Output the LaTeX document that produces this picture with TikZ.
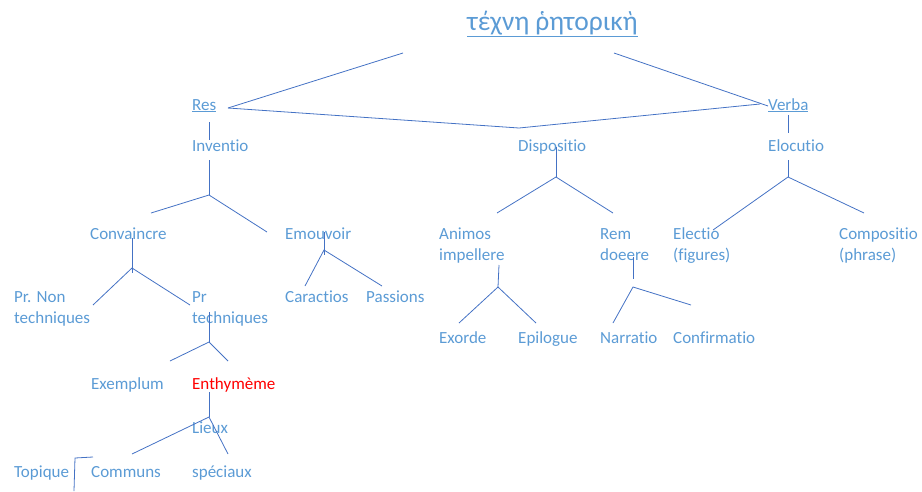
\documentclass[tikz,border=0pt]{standalone}
\usepackage{fontspec}
\setmainfont{Carlito}[Ligatures=NoCommon]
\definecolor{lblblue}{RGB}{91,155,213}
\definecolor{lineblue}{RGB}{68,114,196}
\begin{document}
\begin{tikzpicture}[x=1pt,y=-1pt,
  lbl/.style={anchor=base west,inner sep=0pt,text=lblblue,align=left,font=\fontsize{17}{21}\selectfont},
  br/.style={draw=lineblue,line width=0.8pt}]
\useasboundingbox (0,0) rectangle (922,491);
% title and main branches
\node[lbl,font=\fontsize{27.5}{30}\selectfont] (title) at (467,30) {\underline{τέχνη ῥητορικὴ}};
\node[lbl] (res) at (192,110) {\underline{Res}};
\node[lbl] (verba) at (768,110) {\underline{Verba}};
\node[lbl] (inventio) at (192,151) {Inventio};
\node[lbl] (dispositio) at (518,151) {Dispositio};
\node[lbl] (elocutio) at (768,151) {Elocutio};
% second level (two lines: base is the last line)
\node[lbl] (convaincre) at (90,239) {Convaincre};
\node[lbl] (emouvoir) at (285,239) {Emouvoir};
\node[lbl] (animos) at (439,260) {Animos\\impellere};
\node[lbl] (rem) at (600,260) {Rem\\doeere};
\node[lbl] (electio) at (673,260) {Electio\\(figures)};
\node[lbl] (compositio) at (839,260) {Compositio\\(phrase)};
% third level
\node[lbl] (prnon) at (14,323) {Pr. Non\\techniques};
\node[lbl] (prtech) at (192,323) {Pr\\techniques};
\node[lbl] (caractios) at (285,302) {Caractios};
\node[lbl] (passions) at (366,302) {Passions};
\node[lbl] (exorde) at (439,343) {Exorde};
\node[lbl] (epilogue) at (518,343) {Epilogue};
\node[lbl] (narratio) at (600,343) {Narratio};
\node[lbl] (confirmatio) at (673,343) {Confirmatio};
% lower part
\node[lbl] (exemplum) at (91,389) {Exemplum};
\node[lbl,text=red] (enthymeme) at (192,389) {Enthymème};
\node[lbl] (lieux) at (192,433) {Lieux};
\node[lbl] (topique) at (14,477) {Topique};
\node[lbl] (communs) at (91,477) {Communs};
\node[lbl] (speciaux) at (192,477) {spéciaux};
% junctions and free ends
\coordinate (t-l) at (403,53);
\coordinate (t-r) at (614,53);
\coordinate (res-e) at (228,108);
\coordinate (verba-w) at (768,106);
\coordinate (verba-w2) at (760,104);
\coordinate (disp-top) at (519,128);
\coordinate (res-v1) at (209,122); \coordinate (res-v2) at (209,140);
\coordinate (verba-v1) at (788,115); \coordinate (verba-v2) at (788,133);
\coordinate (inv-v1) at (209,160); \coordinate (inv-j) at (209,195);
\coordinate (inv-l) at (151,213); \coordinate (inv-r) at (267,232);
\coordinate (disp-v1) at (556,147); \coordinate (disp-j) at (556,177);
\coordinate (disp-l) at (497,213); \coordinate (disp-r) at (613,213);
\coordinate (eloc-v1) at (788,160); \coordinate (eloc-j) at (788,177);
\coordinate (eloc-l) at (713,230); \coordinate (eloc-r) at (864,213);
\coordinate (conv-v1) at (132,238); \coordinate (conv-v2) at (132,273);
\coordinate (conv-j) at (132,268);
\coordinate (conv-l) at (93,305); \coordinate (conv-r) at (190,305);
\coordinate (emou-v1) at (324,232); \coordinate (emou-v2) at (324,255);
\coordinate (emou-j) at (324,250);
\coordinate (emou-l) at (305,286); \coordinate (emou-r) at (382,286);
\coordinate (anim-v1) at (499,265); \coordinate (anim-j) at (498,287);
\coordinate (anim-l) at (459,323); \coordinate (anim-r) at (536,323);
\coordinate (rem-v1) at (633,257); \coordinate (rem-v2) at (633,279);
\coordinate (rem-j) at (633,287);
\coordinate (rem-l) at (613,323); \coordinate (rem-r) at (691,305);
\coordinate (prt-v1) at (209,312); \coordinate (prt-j) at (209,342);
\coordinate (prt-l) at (170,361); \coordinate (prt-r) at (228,361);
\coordinate (enth-v1) at (209,392); \coordinate (enth-j) at (209,417);
\coordinate (enth-l) at (132,454); \coordinate (enth-r) at (228,454);
\coordinate (top-a) at (93,457); \coordinate (top-b) at (75,458);
\coordinate (top-c) at (74,491);
% connectors
\draw[br] (t-l) -- (res-e);
\draw[br] (t-r) -- (verba-w);
\draw[br] (res-e) -- (disp-top) -- (verba-w2);
\draw[br] (res-v1) -- (res-v2);
\draw[br] (verba-v1) -- (verba-v2);
\draw[br] (inv-v1) -- (inv-j);
\draw[br] (inv-l) -- (inv-j) -- (inv-r);
\draw[br] (disp-v1) -- (disp-j);
\draw[br] (disp-l) -- (disp-j) -- (disp-r);
\draw[br] (eloc-v1) -- (eloc-j);
\draw[br] (eloc-l) -- (eloc-j) -- (eloc-r);
\draw[br] (conv-v1) -- (conv-v2);
\draw[br] (conv-l) -- (conv-j) -- (conv-r);
\draw[br] (emou-v1) -- (emou-v2);
\draw[br] (emou-l) -- (emou-j) -- (emou-r);
\draw[br] (anim-v1) -- (anim-j);
\draw[br] (anim-l) -- (anim-j) -- (anim-r);
\draw[br] (rem-v1) -- (rem-v2);
\draw[br] (rem-l) -- (rem-j) -- (rem-r);
\draw[br] (prt-v1) -- (prt-j);
\draw[br] (prt-l) -- (prt-j) -- (prt-r);
\draw[br] (enth-v1) -- (enth-j);
\draw[br] (enth-l) -- (enth-j) -- (enth-r);
\draw[br] (top-a) -- (top-b) -- (top-c);
\end{tikzpicture}
\end{document}
